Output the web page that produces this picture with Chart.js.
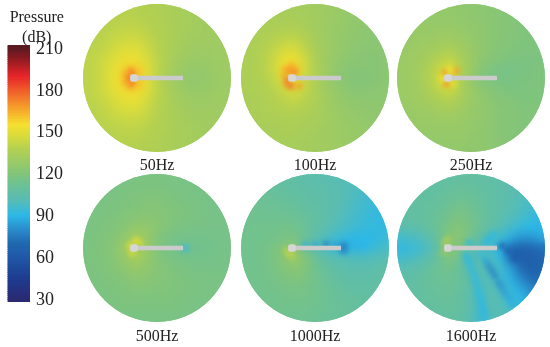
<!DOCTYPE html>
<html>
<head>
<meta charset="utf-8">
<title>Pressure field</title>
<script src="https://cdn.jsdelivr.net/npm/chart.js@4/dist/chart.umd.min.js"></script>
<style>
    html, body { margin: 0; padding: 0; background: #fff; }
    body { position: relative; width: 550px; height: 347px; overflow: hidden; }
    canvas { position: absolute; }
</style>
</head>
<body>
<canvas id="bar" width="66" height="347" style="left:0;top:0"></canvas>
<canvas id="p0" width="152" height="174" style="left:81px;top:2px"></canvas>
<canvas id="p1" width="152" height="174" style="left:239px;top:2px"></canvas>
<canvas id="p2" width="152" height="174" style="left:395px;top:2px"></canvas>
<canvas id="p3" width="152" height="175" style="left:81px;top:172px"></canvas>
<canvas id="p4" width="152" height="175" style="left:239px;top:172px"></canvas>
<canvas id="p5" width="152" height="175" style="left:395px;top:172px"></canvas>
<script>
const panelLabels = ['50Hz', '100Hz', '250Hz', '500Hz', '1000Hz', '1600Hz'];
const barTicks = [30, 60, 90, 120, 150, 180, 210];
const gridAxis = [-80, -70, -60, -50, -40, -30, -20, -10, 0, 10, 20, 30, 40, 50, 60, 70, 80];
const rodX = [-23, 26];
const rodY = [0, 0];

const grid50 = [
    [137,137,137,137,137,137,137,136,136,135,134,133,133,132,132,131,131],
    [138,138,138,138,138,138,138,137,136,135,134,133,133,132,132,131,131],
    [138,138,138,138,139,139,139,138,137,135,134,133,132,132,131,131,131],
    [138,138,139,139,140,141,141,139,137,136,134,133,132,131,131,131,131],
    [138,139,139,141,143,144,144,142,138,136,134,132,131,131,130,130,130],
    [139,139,140,142,146,148,148,144,139,136,133,131,130,130,130,130,131],
    [139,140,142,145,149,152,152,147,140,136,132,130,129,129,130,130,131],
    [139,140,142,147,152,157,158,150,141,135,131,128,127,128,129,130,131],
    [139,140,142,147,153,159,162,151,140,133,129,126,126,127,129,130,131],
    [139,140,142,147,152,157,158,150,141,135,131,128,127,128,129,130,131],
    [139,140,142,145,149,152,152,147,140,136,132,130,129,129,130,130,131],
    [139,139,140,142,146,148,148,144,139,136,133,131,130,130,130,130,131],
    [138,139,139,141,143,144,144,142,138,136,134,132,131,131,130,130,130],
    [138,138,139,139,140,141,141,139,137,136,134,133,132,131,131,131,131],
    [138,138,138,138,139,139,139,138,137,135,134,133,132,132,131,131,131],
    [138,138,138,138,138,138,138,137,136,135,134,133,133,132,132,131,131],
    [137,137,137,137,137,137,137,136,136,135,134,133,133,132,132,131,131]
];
const grid100 = [
    [133,133,133,133,133,133,132,132,131,130,129,127,126,125,125,124,124],
    [133,133,133,133,133,133,133,132,131,130,129,127,126,125,125,124,124],
    [133,134,134,134,134,134,134,133,132,130,129,127,126,125,124,124,124],
    [134,134,135,135,135,136,136,134,132,130,128,127,125,124,124,123,123],
    [134,134,135,136,138,140,140,137,133,130,128,126,125,124,123,123,123],
    [134,135,136,138,141,145,146,140,134,131,128,126,124,123,123,123,123],
    [134,135,136,139,144,151,153,144,135,131,127,125,123,122,122,123,123],
    [134,135,136,139,145,155,158,146,136,131,126,123,122,122,122,123,123],
    [134,135,136,138,143,149,153,143,136,130,125,122,121,121,122,123,124],
    [134,135,136,137,140,145,149,142,136,131,127,124,122,122,123,124,124],
    [134,134,135,136,138,141,143,140,136,132,128,126,124,124,124,124,125],
    [134,134,135,136,137,138,139,137,135,132,129,127,126,125,125,125,125],
    [134,134,134,135,135,136,136,135,134,132,130,128,127,126,125,125,125],
    [133,134,134,134,134,135,135,134,133,131,130,129,128,127,126,126,125],
    [133,133,133,134,134,134,134,133,132,131,130,129,128,127,127,126,126],
    [133,133,133,133,133,133,133,132,132,131,130,129,128,127,127,126,126],
    [132,132,132,132,132,132,132,132,131,131,130,129,128,127,127,126,126]
];
const grid250 = [
    [126,126,126,126,126,125,125,125,124,124,123,122,121,120,120,119,119],
    [126,126,126,126,126,126,126,125,125,124,123,122,121,120,120,119,119],
    [127,127,127,127,127,127,127,126,125,124,123,122,121,120,120,119,119],
    [127,127,128,128,128,128,128,127,126,125,123,122,121,120,119,119,119],
    [128,128,128,129,129,130,130,129,127,125,123,122,120,120,119,119,119],
    [128,128,129,130,131,133,134,131,128,125,123,121,120,119,119,119,119],
    [128,129,130,131,134,138,140,134,129,125,122,120,119,118,118,118,119],
    [129,129,130,132,137,144,148,137,129,123,119,117,116,117,118,119,119],
    [129,129,130,133,138,146,150,136,126,120,117,116,117,118,118,119,119],
    [129,129,130,132,137,143,146,135,129,124,121,119,118,118,119,119,119],
    [128,129,130,131,134,137,139,134,129,126,123,121,120,119,119,119,119],
    [128,128,129,130,131,133,134,131,128,126,124,122,121,120,120,120,120],
    [128,128,128,129,129,130,130,129,127,126,124,122,121,120,120,120,120],
    [127,127,128,128,128,128,128,128,127,125,124,122,121,120,120,120,120],
    [127,127,127,127,127,127,127,127,126,125,124,122,121,120,120,120,120],
    [126,126,126,126,126,126,126,126,125,125,124,122,121,120,120,120,120],
    [126,126,126,126,126,126,126,125,125,124,123,122,121,120,120,120,120]
];
const grid500 = [
    [117,117,117,117,117,117,117,117,117,116,116,116,116,116,116,116,116],
    [117,117,117,117,117,117,118,118,118,117,117,116,116,116,116,116,116],
    [117,117,117,117,117,118,118,118,118,118,117,117,116,116,116,116,116],
    [117,117,117,117,118,118,119,120,120,119,118,117,117,116,116,116,116],
    [117,117,117,118,118,119,120,121,121,120,119,118,117,116,116,116,116],
    [117,117,118,118,119,121,122,123,122,120,119,118,117,116,116,116,116],
    [117,117,118,119,120,123,126,126,123,120,118,117,116,116,116,116,116],
    [117,118,118,120,122,127,133,128,121,117,115,115,115,115,115,116,116],
    [117,118,119,120,124,131,137,128,120,116,114,113,113,114,115,116,116],
    [117,118,119,120,123,129,134,127,121,118,116,115,115,115,116,116,116],
    [117,118,118,120,122,125,128,125,122,120,118,117,116,116,116,116,116],
    [117,118,118,119,120,122,124,123,121,120,119,118,117,117,117,117,117],
    [117,117,118,118,119,120,121,121,120,120,119,118,118,117,117,117,117],
    [117,117,117,118,118,119,119,119,119,119,118,118,117,117,117,117,117],
    [117,117,117,117,118,118,118,118,118,118,118,117,117,117,117,117,117],
    [117,117,117,117,117,117,117,117,117,117,117,117,117,117,117,117,117],
    [117,117,117,117,117,117,117,117,117,117,117,117,117,117,117,117,117]
];
const grid1000 = [
    [110,110,109,108,107,106,105,105,104,103,102,101,100,99,98,96,95],
    [111,110,110,109,108,107,106,105,104,103,102,101,100,98,96,95,94],
    [112,111,111,110,109,108,107,106,105,104,103,101,99,97,95,93,93],
    [112,112,112,111,110,109,108,107,106,105,103,101,98,96,94,93,93],
    [113,113,113,112,112,111,110,108,107,105,103,100,97,95,93,92,92],
    [113,113,113,113,113,113,112,110,107,105,102,99,96,94,92,92,92],
    [113,113,114,114,114,115,114,111,107,104,100,97,95,93,92,92,93],
    [114,114,114,114,115,117,117,111,104,99,95,92,90,90,91,93,96],
    [114,114,114,115,117,121,122,113,104,98,94,91,88,90,94,97,101],
    [114,114,114,115,118,124,130,120,111,105,102,100,99,99,100,102,104],
    [114,114,114,115,117,120,124,120,114,109,106,104,103,103,104,106,106],
    [114,114,114,115,116,118,120,118,114,111,108,106,105,105,106,107,107],
    [114,114,114,114,115,116,117,116,114,112,110,108,107,107,107,107,108],
    [113,114,114,114,114,115,115,115,114,112,110,109,108,108,108,108,108],
    [113,113,113,114,114,114,114,114,113,112,111,110,109,108,108,108,108],
    [113,113,113,113,113,113,113,113,112,111,110,110,109,108,108,108,108],
    [112,112,112,113,113,113,113,112,112,111,110,110,109,108,108,108,108]
];
const grid1600 = [
    [106,106,106,106,106,106,107,107,107,106,105,104,102,100,98,96,95],
    [106,106,106,106,107,107,107,108,108,107,106,105,103,101,99,96,95],
    [106,106,107,107,107,108,109,110,109,108,107,105,103,101,98,95,93],
    [107,107,107,108,108,109,111,112,111,109,107,105,103,100,97,94,92],
    [107,107,108,108,109,110,113,115,113,110,107,105,102,99,96,93,91],
    [106,106,107,108,110,112,116,118,115,111,107,104,100,97,93,91,91],
    [102,103,104,106,109,113,119,120,116,110,106,101,96,92,90,89,90],
    [96,96,97,100,105,112,122,122,113,105,100,94,88,82,82,86,90],
    [92,92,93,95,100,112,124,118,106,98,94,88,70,66,68,72,78],
    [96,96,97,100,105,112,120,110,100,100,100,90,70,64,64,68,74],
    [102,102,104,106,109,113,115,108,104,102,98,96,84,70,65,68,74],
    [105,105,106,108,110,112,112,110,103,100,100,94,88,78,70,70,74],
    [106,106,107,108,110,111,111,109,104,98,102,98,92,86,78,74,76],
    [106,106,107,108,109,110,110,108,103,98,103,100,94,90,84,80,82],
    [106,106,106,107,108,109,109,108,103,96,102,101,96,92,88,86,86],
    [106,106,106,106,107,108,108,107,103,94,100,102,98,94,92,90,90],
    [105,105,105,106,106,107,107,106,103,96,100,102,99,96,94,92,92]
];

// small features near the hub and along the streaks: [x, y, dB]
const spots50 = [[-32,-4,164],[-32,4,164],[-27,-8,166],[-27,8,166],[-18,-7,160],[-18,7,160],[-28,0,176],[-25,-5,174],[-25,5,174]];
const spots100 = [[-30,-9,164],[-24,-12,165],[-20,-8,166],[-31,-3,164],[-26,-7,170],[-21,-5,172],[-28,6,170],[-24,8,176],[-16,8,168],[-28,2,174]];
const spots250 = [[-26,-5,170],[-15,-7,168],[-24,6,170],[-29,0,154],[-21,-8,154],[-18,6,150]];
const spots500 = [[-21,-7,152],[-27,-2,150],[-25,5,146],[-17,-5,144],[27,0,98],[29,0,98]];
const spots1000 = [[-26,5,144],[-23,7,138],[-29,2,136],[-10,-3,88],[0,-3,86],[11,-4,78],[20,-3,84],[28,0,74],[29,-3,78],[29,3,80]];
const spots1600 = [
    [-26,-5,136],[-23,-9,134],[-27,4,130],
    [-5,7,92],[-3,11,92],[-2,15,92],[0,20,92],[2,25,92],[4,30,92],[5,35,92],[7,41,92],[8,46,90],[10,52,90],[11,58,90],[13,64,90],[14,70,92],
    [11,7,94],[15,13,86],[18,18,80],[21,23,78],[24,28,78],[28,35,80],[31,40,82],[34,45,84],[38,50,86],[41,55,88],[47,63,90],
    [-2,-5,92],[15,-6,92],[19,-10,90],[23,-14,92],
    [31,-2,66],[37,3,64],[44,10,60]
];
const panelGrids = [grid50, grid100, grid250, grid500, grid1000, grid1600];
const panelSpots = [spots50, spots100, spots250, spots500, spots1000, spots1600];

const colorStops = [
    [30, 42, 42, 114], [45, 30, 60, 144], [60, 32, 88, 168], [70, 32, 104, 176], [80, 42, 140, 204],
    [90, 44, 184, 232], [100, 85, 188, 184], [110, 104, 192, 154], [120, 130, 196, 122],
    [138, 180, 208, 80], [147, 216, 220, 60], [155, 245, 224, 48], [167, 246, 160, 42],
    [179, 240, 96, 42], [190, 232, 37, 42], [203, 138, 26, 32], [210, 90, 26, 32]
];

const discRadius = 74;

function dbColor(db) {
    let i = 0;
    while (i < colorStops.length - 2 && db > colorStops[i + 1][0]) i++;
    const a = colorStops[i], b = colorStops[i + 1];
    const t = Math.min(1, Math.max(0, (db - a[0]) / (b[0] - a[0])));
    const mix = k => Math.round(a[k] + (b[k] - a[k]) * t);
    return `rgb(${mix(1)},${mix(2)},${mix(3)})`;
}

function discClip(chart, ctx) {
    const cx = chart.scales.x.getPixelForValue(0);
    const cy = chart.scales.y.getPixelForValue(0);
    const r = chart.scales.x.getPixelForValue(discRadius) - cx;
    ctx.beginPath();
    ctx.arc(cx, cy, r, 0, Math.PI * 2);
    ctx.clip();
}

// smooths the cell layer and cuts it to the disc, then softens the small spots
const discPlugin = {
    id: 'disc',
    beforeDatasetDraw(chart, args) {
        const role = chart.data.datasets[args.index].role;
        if (role === 'spots') {
            chart.ctx.save();
            discClip(chart, chart.ctx);
            chart.ctx.filter = 'blur(2.5px)';
        }
    },
    afterDatasetDraw(chart, args) {
        const role = chart.data.datasets[args.index].role;
        const ctx = chart.ctx;
        if (role === 'spots') ctx.restore();
        if (role !== 'field') return;
        const area = chart.chartArea;
        const off = document.createElement('canvas');
        off.width = chart.canvas.width;
        off.height = chart.canvas.height;
        off.getContext('2d').drawImage(chart.canvas, 0, 0);
        ctx.clearRect(area.left - 1, area.top - 1, area.right - area.left + 2, area.bottom - area.top + 2);
        ctx.save();
        discClip(chart, ctx);
        ctx.drawImage(off, 0, 0);
        ctx.filter = 'blur(5px)';
        ctx.drawImage(off, 0, 0);
        ctx.restore();
    }
};

function fieldPoints(grid) {
    const pts = [];
    grid.forEach((row, r) => {
        row.forEach((db, c) => {
            pts.push({ x: gridAxis[c], y: gridAxis[r], db: db });
        });
    });
    return pts;
}

panelLabels.forEach((label, i) => {
    const field = fieldPoints(panelGrids[i]);
    const spots = panelSpots[i].map(s => ({ x: s[0], y: s[1], db: s[2] }));
    new Chart(document.getElementById('p' + i), {
        type: 'scatter',
        data: {
            datasets: [
                {
                    // hub
                    data: [{ x: rodX[0], y: rodY[0] }],
                    pointStyle: 'rectRounded',
                    pointRadius: 4.5,
                    pointBackgroundColor: '#d6d6d6',
                    pointBorderWidth: 0,
                    order: 0
                },
                {
                    // rod
                    data: rodX.map((x, k) => ({ x: x, y: rodY[k] })),
                    showLine: true,
                    borderColor: '#cbcbcb',
                    borderWidth: 4.5,
                    pointRadius: 0,
                    order: 1
                },
                {
                    role: 'spots',
                    data: spots,
                    pointRadius: 3.2,
                    pointBorderWidth: 0,
                    pointBackgroundColor: spots.map(p => dbColor(p.db)),
                    order: 2
                },
                {
                    role: 'field',
                    data: field,
                    pointStyle: 'rect',
                    pointRadius: 7.6,
                    pointBorderWidth: 0,
                    pointBackgroundColor: field.map(p => dbColor(p.db)),
                    order: 3
                }
            ]
        },
        options: {
            responsive: false,
            animation: false,
            events: [],
            layout: { padding: 0, autoPadding: false },
            scales: {
                x: { type: 'linear', min: -76, max: 76, display: false },
                y: { type: 'linear', min: -76, max: 76, reverse: true, display: false }
            },
            plugins: {
                legend: { display: false },
                tooltip: { enabled: false },
                title: {
                    display: true,
                    text: label,
                    position: 'bottom',
                    color: '#222',
                    font: { family: 'Liberation Serif', size: 16, weight: 'normal', lineHeight: 1.25 },
                    padding: { top: i < 3 ? 2 : 3, bottom: 0 }
                }
            }
        },
        plugins: [discPlugin]
    });
});

// colour bar: one floating bar per 1.5 dB step
const barSets = [];
for (let lo = 28.5; lo < 213; lo += 1.5) {
    barSets.push({
        data: [[lo, lo + 1.9]],
        backgroundColor: dbColor(lo + 0.75),
        borderWidth: 0,
        barPercentage: 1,
        categoryPercentage: 1,
        grouped: false
    });
}

new Chart(document.getElementById('bar'), {
    type: 'bar',
    data: { labels: ['dB'], datasets: barSets },
    options: {
        responsive: false,
        animation: false,
        events: [],
        layout: { padding: { left: 7.5, top: 5, bottom: 45 } },
        scales: {
            x: { display: false },
            y: {
                position: 'right',
                min: 28.5,
                max: 213,
                grid: { display: false, drawTicks: false },
                border: { display: false },
                afterFit: scale => { scale.width = 36; },
                afterBuildTicks: scale => { scale.ticks = barTicks.map(v => ({ value: v })); },
                ticks: {
                    color: '#222',
                    padding: 6,
                    font: { family: 'Liberation Serif', size: 18 }
                }
            }
        },
        plugins: {
            legend: { display: false },
            tooltip: { enabled: false },
            title: {
                display: true,
                text: ['Pressure', '(dB)'],
                color: '#222',
                font: { family: 'Liberation Serif', size: 16, weight: 'normal', lineHeight: 1.25 },
                padding: 0
            }
        }
    },
    plugins: [{
        // the heading sits a little lower than its box, just over the bar
        id: 'headingShift',
        afterLayout(chart) {
            chart.titleBlock.top += 3;
            chart.titleBlock.bottom += 3;
        }
    }]
});
</script>
</body>
</html>
